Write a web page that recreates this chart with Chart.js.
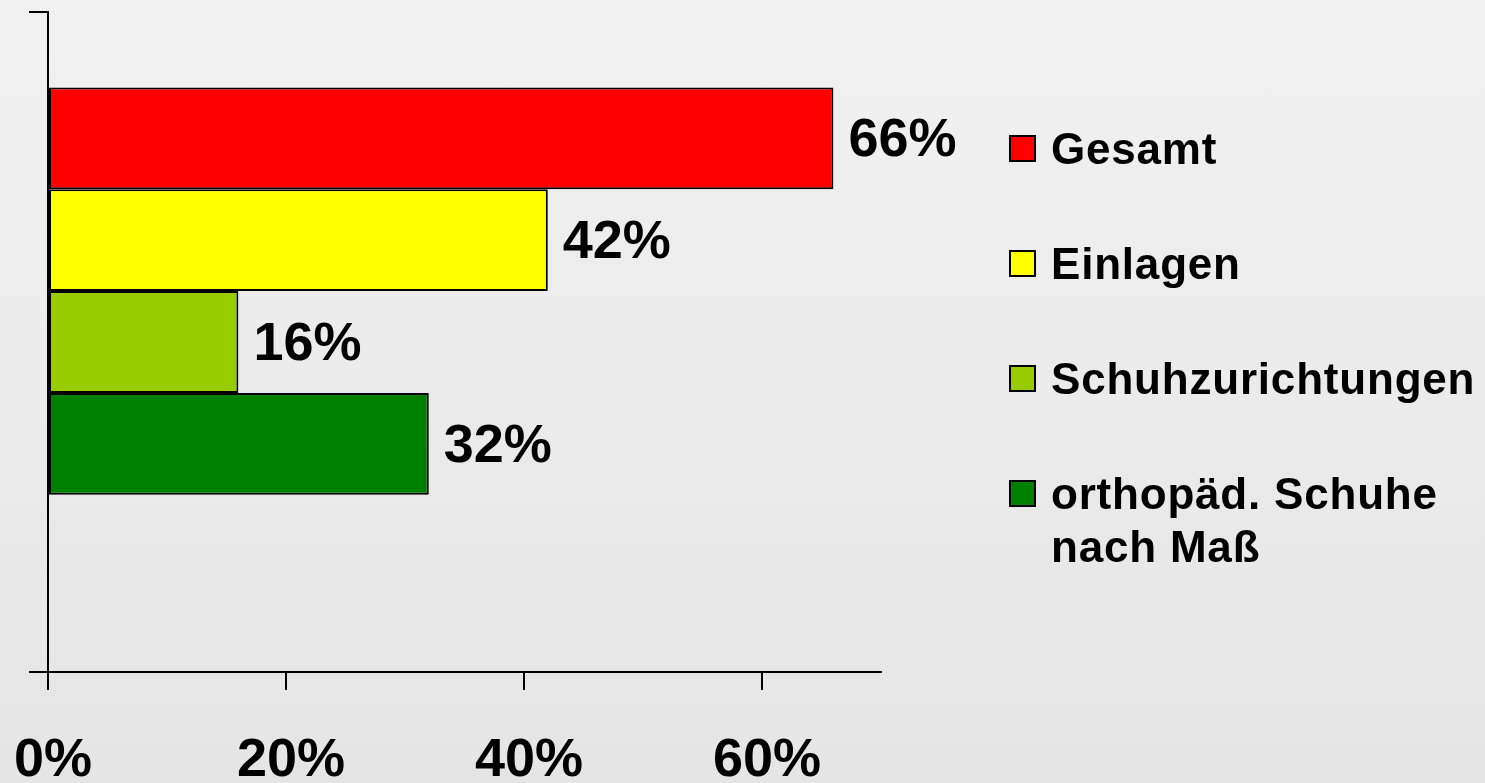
<!DOCTYPE html>
<html>
<head>
<meta charset="utf-8">
<script src="https://cdn.jsdelivr.net/npm/chart.js@4/dist/chart.umd.min.js"></script>
<style>
  html, body { margin: 0; padding: 0; }
  body {
    width: 1485px; height: 783px; overflow: hidden; position: relative;
    background: linear-gradient(#f1f1f1, #e5e5e5);
    font-family: "Liberation Sans", Arial, sans-serif;
  }
  #wrap { position: absolute; left: 0; top: 0; width: 1485px; height: 783px; }
  .legend-item { position: absolute; left: 1009px; }
  .legend-box {
    position: absolute; left: 0; top: 13px; width: 27px; height: 27px;
    box-sizing: border-box; border: 2px solid #000;
  }
  .legend-text {
    position: absolute; left: 42px; top: 0; width: 440px;
    font-weight: bold; font-size: 44px; line-height: 53px; color: #000;
    letter-spacing: 0.8px;
  }
</style>
</head>
<body>
<div id="wrap"><canvas id="chart" width="1485" height="783"></canvas></div>
<div id="legend"></div>
<script>
// Chart data
const categories = [''];
const seriesNames = ['Gesamt', 'Einlagen', 'Schuhzurichtungen', 'orthopäd. Schuhe nach Maß'];
const seriesValues = [66, 42, 16, 32];
const seriesColors = ['#ff0000', '#ffff00', '#99cc00', '#008000'];
const xTicks = [0, 20, 40, 60];
const xMax = 70;

// Datasets, one per series (plus the empty fifth slot the original chart leaves below the bars)
const datasets = seriesNames.map((name, i) => ({
    label: name,
    data: [seriesValues[i]],
    backgroundColor: seriesColors[i],
    borderColor: '#000',
    borderWidth: 2,
    borderSkipped: false
}));
datasets.push({ label: '', data: [null], backgroundColor: 'transparent', borderWidth: 0 });

// Percent labels at the end of every bar
const valueLabels = {
    id: 'valueLabels',
    afterDatasetsDraw(chart) {
        const ctx = chart.ctx;
        ctx.save();
        ctx.font = 'bold 54px "Liberation Sans", Arial, sans-serif';
        ctx.fillStyle = '#000';
        ctx.textAlign = 'left';
        ctx.textBaseline = 'middle';
        chart.data.datasets.forEach((ds, i) => {
            if (ds.data[0] == null) return;
            const bar = chart.getDatasetMeta(i).data[0];
            ctx.fillText(ds.data[0] + '%', bar.x + 15, bar.y + 3);
        });
        ctx.restore();
    }
};

const ctx = document.getElementById('chart').getContext('2d');
new Chart(ctx, {
    type: 'bar',
    data: { labels: categories, datasets: datasets },
    plugins: [valueLabels],
    options: {
        indexAxis: 'y',
        responsive: false,
        animation: false,
        layout: { padding: { top: 12, right: 604, left: 0, bottom: 0 } },
        datasets: { bar: { categoryPercentage: 0.771, barPercentage: 1 } },
        plugins: { legend: { display: false }, tooltip: { enabled: false } },
        scales: {
            x: {
                min: 0,
                max: xMax,
                afterBuildTicks: scale => { scale.ticks = xTicks.map(v => ({ value: v })); },
                afterFit: scale => {
                    scale.height = 111;
                    scale.paddingLeft = 0;
                    scale.paddingRight = 0;
                },
                grid: { drawOnChartArea: false, drawTicks: true, tickLength: 18, color: '#000', lineWidth: 2 },
                border: { display: true, color: '#000', width: 2 },
                ticks: {
                    padding: 39,
                    labelOffset: 5,
                    color: '#000',
                    font: { family: '"Liberation Sans", Arial, sans-serif', size: 54, weight: 'bold' },
                    callback: v => v + '%'
                }
            },
            y: {
                afterFit: scale => { scale.width = 48; },
                grid: { drawOnChartArea: false, drawTicks: true, tickLength: 19, color: '#000', lineWidth: 2 },
                border: { display: true, color: '#000', width: 2 },
                ticks: { display: false }
            }
        }
    }
});

// Legend on the right, drawn as HTML so the last entry can wrap
const legend = document.getElementById('legend');
seriesNames.forEach((name, i) => {
    const item = document.createElement('div');
    item.className = 'legend-item';
    item.style.top = (122 + i * 115) + 'px';
    item.innerHTML = '<div class="legend-box" style="background:' + seriesColors[i] + '"></div>' +
        '<div class="legend-text">' + name + '</div>';
    legend.appendChild(item);
});
</script>
</body>
</html>
